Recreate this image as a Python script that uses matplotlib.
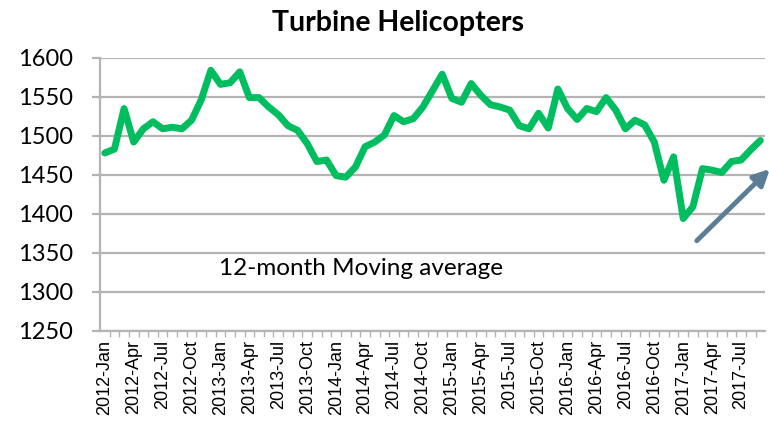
import numpy as np
import matplotlib.pyplot as plt

# 12-month moving average, Jan 2012 .. Sep 2017
months = ['Jan', 'Feb', 'Mar', 'Apr', 'May', 'Jun',
          'Jul', 'Aug', 'Sep', 'Oct', 'Nov', 'Dec']
periods = [f'{y}-{m}' for y in range(2012, 2018) for m in months][:69]

helicopters = [1478, 1483, 1535, 1492, 1509, 1518, 1509, 1511, 1509, 1520, 1546, 1584,
               1566, 1568, 1582, 1549, 1549, 1537, 1527, 1513, 1507, 1490, 1467, 1469,
               1449, 1447, 1460, 1486, 1492, 1501, 1526, 1518, 1522, 1537, 1558, 1579,
               1548, 1543, 1567, 1552, 1540, 1537, 1533, 1513, 1509, 1529, 1510, 1560,
               1535, 1521, 1535, 1531, 1549, 1533, 1509, 1520, 1514, 1492, 1443, 1473,
               1394, 1409, 1458, 1456, 1453, 1467, 1469, 1482, 1494]

grid_col = '#b4b4b4'

fig = plt.figure(figsize=(7.69, 4.22), dpi=100)
ax = fig.add_axes([0.130, 0.216, 0.865, 0.647])

x = np.arange(len(helicopters))
ax.plot(x, helicopters, color='#00be5f', lw=5, solid_joinstyle='round',
        solid_capstyle='round', zorder=3)

ax.set_xlim(-0.5, len(helicopters) - 0.5)
ax.set_ylim(1250, 1600)
ax.set_yticks(np.arange(1250, 1601, 50))
ax.yaxis.grid(True, color=grid_col, lw=1.6)
ax.set_axisbelow(True)

ax.set_xticks(x[::3])
ax.set_xticklabels(periods[::3], rotation=90, fontsize=13,
                   family='Liberation Sans')
ax.set_xticks(x[:-1] + 0.5, minor=True)
ax.tick_params(axis='x', which='major', length=0, pad=6.5)
ax.tick_params(axis='x', which='minor', length=4, color=grid_col, width=1)
ax.tick_params(axis='y', length=6, color=grid_col, width=1.6, pad=13.5)
for lab in ax.get_yticklabels():
    lab.set_family('Lato')
    lab.set_fontsize(17)

for s in ['top', 'right']:
    ax.spines[s].set_visible(False)
ax.spines['left'].set_color(grid_col)
ax.spines['left'].set_linewidth(1.6)
ax.spines['bottom'].set_color(grid_col)
ax.spines['bottom'].set_linewidth(1.6)

fig.text(0.517, 0.945, 'Turbine Helicopters', ha='center', va='center',
         fontsize=20.5, fontweight='bold', family='Lato')

ax.text(11.8, 1330, '12-month Moving average', ha='left', va='center',
        fontsize=17.5, family='Lato')

ax.annotate('', xy=(69.2, 1460), xytext=(61.2, 1363),
            arrowprops=dict(arrowstyle='-|>', color='#5b7d96', lw=3.5,
                            mutation_scale=24),
            annotation_clip=False)

fig.savefig('out.png', dpi=100)
